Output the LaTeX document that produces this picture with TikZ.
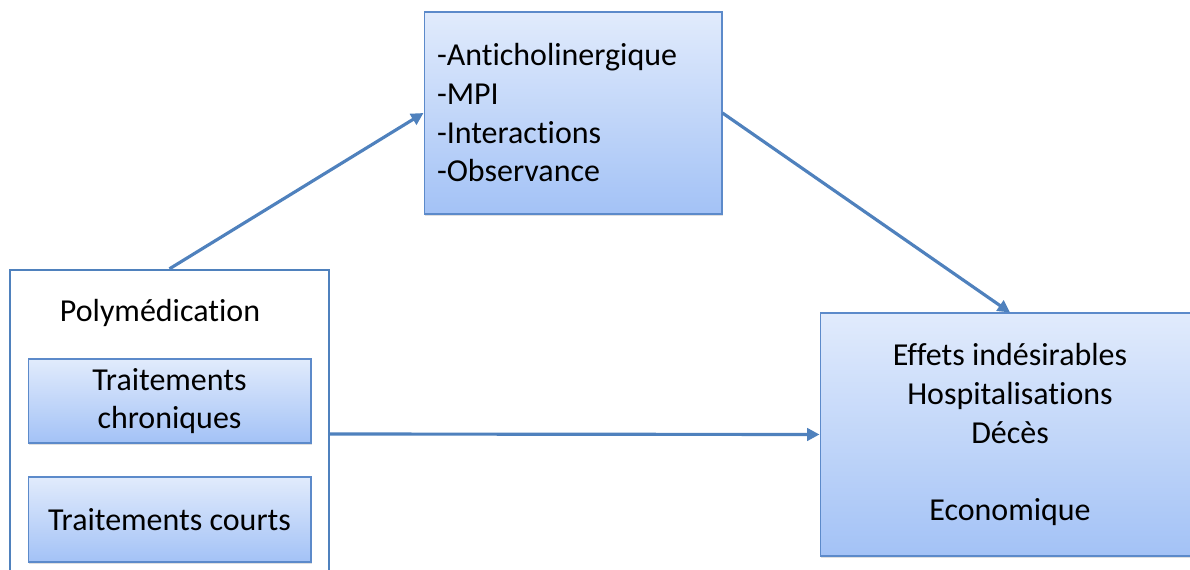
\documentclass[tikz,border=0pt]{standalone}
\usepackage{fontspec}
\setmainfont{Carlito}[Ligatures=NoCommon]
\usetikzlibrary{arrows.meta, positioning, shadows}
\definecolor{boxtop}{HTML}{E1EBFC}
\definecolor{boxbottom}{HTML}{A3C2F6}
\definecolor{boxline}{HTML}{5C8ACA}
\definecolor{arrowblue}{HTML}{4F81BD}

\tikzset{
  fillbox/.style={draw=boxline, line width=0.6pt, top color=boxtop, bottom color=boxbottom,
    drop shadow={opacity=0.25, shadow xshift=0.8pt, shadow yshift=-1.2pt}},
  outerbox/.style={draw=arrowblue, line width=1.4pt, fill=white},
  arrowline/.style={->, arrowblue, line width=1.8pt},
  >={Triangle[length=7pt,width=7pt]}
}

\begin{document}
\begin{tikzpicture}[x=0.02cm, y=-0.02cm, font=\fontsize{18.2pt}{22pt}\selectfont]
        \useasboundingbox (0,0) rectangle (1190,570);
        \clip (0,0) rectangle (1190,570);

        % polymedication
        \node[outerbox, minimum width=6.38cm, minimum height=6.56cm] (poly) at (169.5,434) {};
        \node (polylabel) at (160,313) {Polymédication};
        \node[fillbox, minimum width=5.66cm, minimum height=1.68cm, align=center] (chron) at (169.5,401) {Traitements\\chroniques};
        \node[fillbox, minimum width=5.66cm, minimum height=1.70cm] (court) at (169.5,519.5) {Traitements courts};

        % mechanisms
        \node[fillbox, text width=5.44cm, inner xsep=0.26cm, minimum height=4.04cm, align=left] (mech) at (573,113)
            {-Anticholinergique\\-MPI\\-Interactions\\-Observance};

        % outcomes
        \node[fillbox, minimum width=7.6cm, minimum height=4.86cm, align=center] (outc) at (1010,434.5)
            {Effets indésirables\\Hospitalisations\\Décès\\~\\Economique};

        % arrows
        \draw[arrowline] (poly.north) -- (mech.west);
        \draw[arrowline] (mech.east) -- (outc.north);
        \draw[arrowline] (poly.east) -- (outc.west);
    \end{tikzpicture}
\end{document}
